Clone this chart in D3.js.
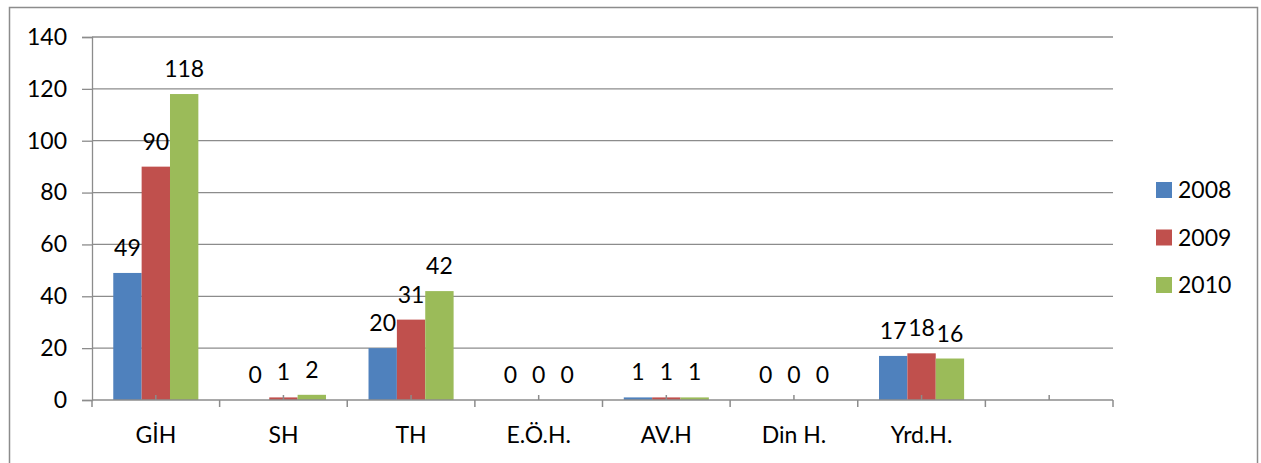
<!DOCTYPE html>
<html><head><meta charset="utf-8">
<script src="https://cdn.jsdelivr.net/npm/d3@7"></script>
<style>body{margin:0;background:#fff}svg{display:block}</style>
</head><body>
<svg id="c" width="1261" height="463"></svg>
<script>
const categories = ["GİH","SH","TH","E.Ö.H.","AV.H","Din H.","Yrd.H.",""];
const seriesNames = ["2008","2009","2010"];
const values2008 = [49,0,20,0,1,0,17,null];
const values2009 = [90,1,31,0,1,0,18,null];
const values2010 = [118,2,42,0,1,0,16,null];
const yTicks = [0,20,40,60,80,100,120,140];
const colors = ["#4F81BD","#C0504D","#9BBB59"];
const allSeries = [values2008, values2009, values2010];

const svg = d3.select("#c");
const font = "Lato, 'Open Sans', sans-serif";
const fs = 23;

svg.append("rect").attr("x",9.5).attr("y",7.5).attr("width",1248).attr("height",480)
  .attr("fill","#fff").attr("stroke","#8c8c8c").attr("stroke-width",1.5);

const L=92, R=1113, T=37, B=400;
const x = d3.scaleBand().domain(d3.range(categories.length)).range([L,R]).paddingInner(0).paddingOuter(0);
const bw = x.bandwidth();
const inner = d3.scaleBand().domain(d3.range(3)).range([0,bw]).paddingOuter(0.75).paddingInner(0);
const y = d3.scaleLinear().domain([0,140]).range([B,T]);

// gridlines
svg.append("g").selectAll("line").data(yTicks.filter(d=>d>0)).join("line")
  .attr("x1",L).attr("x2",R).attr("y1",d=>y(d)).attr("y2",d=>y(d))
  .attr("stroke","#8c8c8c").attr("stroke-width",1.3);

// y axis
const ya = svg.append("g").attr("transform",`translate(${L},0)`)
  .call(d3.axisLeft(y).tickValues(yTicks).tickSize(10).tickPadding(15));
ya.select(".domain").attr("stroke","#8c8c8c").attr("stroke-width",1.3);
ya.selectAll(".tick line").attr("stroke","#8c8c8c").attr("stroke-width",1.3);
ya.selectAll("text").attr("font-family",font).attr("font-size",fs).attr("fill","#000");

// bars
allSeries.forEach((vals,si)=>{
  svg.append("g").selectAll("rect").data(vals.map((v,i)=>({v,i})).filter(d=>d.v!==null)).join("rect")
    .attr("x",d=>x(d.i)+inner(si)).attr("width",inner.bandwidth())
    .attr("y",d=>y(d.v)).attr("height",d=>B-y(d.v)).attr("fill",colors[si]);
});

// x axis line and ticks
svg.append("line").attr("x1",L).attr("x2",R).attr("y1",B).attr("y2",B).attr("stroke","#8c8c8c").attr("stroke-width",1.5);
const bounds = d3.range(categories.length+1).map(i=> i<categories.length ? x(i) : R);
svg.append("g").selectAll("line").data(bounds).join("line")
  .attr("x1",d=>d).attr("x2",d=>d).attr("y1",B).attr("y2",B+7).attr("stroke","#8c8c8c").attr("stroke-width",1.5);
svg.append("g").selectAll("line").data(d3.range(categories.length)).join("line")
  .attr("x1",d=>x(d)+bw/2).attr("x2",d=>x(d)+bw/2).attr("y1",B-5).attr("y2",B).attr("stroke","#8c8c8c").attr("stroke-width",1.5);

// category labels
svg.append("g").selectAll("text").data(categories).join("text")
  .attr("x",(d,i)=>x(i)+bw/2).attr("y",443).attr("text-anchor","middle")
  .attr("font-family",font).attr("font-size",fs).attr("fill","#000").text(d=>d);

// data labels
allSeries.forEach((vals,si)=>{
  svg.append("g").selectAll("text").data(vals.map((v,i)=>({v,i})).filter(d=>d.v!==null)).join("text")
    .attr("x",d=>x(d.i)+inner(si)+inner.bandwidth()/2).attr("y",d=>y(d.v)-17)
    .attr("text-anchor","middle").attr("font-family",font).attr("font-size",fs).attr("fill","#000")
    .text(d=>d.v);
});

// legend
const lg = svg.append("g");
seriesNames.forEach((n,i)=>{
  const cy = 190 + i*47.5;
  lg.append("rect").attr("x",1156).attr("y",cy-8).attr("width",16).attr("height",16).attr("fill",colors[i]);
  lg.append("text").attr("x",1178).attr("y",cy+8).attr("font-family",font).attr("font-size",fs).attr("fill","#000").text(n);
});
</script>
</body></html>
